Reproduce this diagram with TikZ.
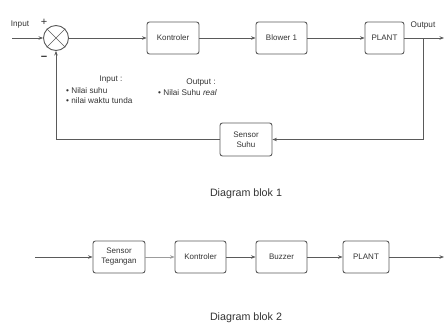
\documentclass[tikz,border=0pt]{standalone}
\usepackage{fontspec}
\setmainfont{Liberation Sans}
\usetikzlibrary{arrows.meta}
\definecolor{ln}{HTML}{5A5A5A}
\definecolor{tx}{HTML}{333333}
\begin{document}
\begin{tikzpicture}[x=1pt,y=-1pt,
  blk/.style={draw=ln,line width=0.9pt,rounded corners=2.5pt,minimum height=32pt,align=center,font=\fontsize{8}{10}\selectfont,text=tx,inner sep=1pt},
  conn/.style={draw=ln,line width=0.7pt,-{Stealth[length=4.5pt,width=3.5pt]}},
  plain/.style={draw=ln,line width=0.7pt},
  lbl/.style={font=\fontsize{8.2}{10}\selectfont,text=tx,inner sep=0pt},
  captxt/.style={font=\fontsize{10.7}{12}\selectfont,text=tx,inner sep=0pt}]
\useasboundingbox (0,0) rectangle (444,327);
% ---------- Diagram 1 ----------
\coordinate (in1) at (12,38);
\node[draw=ln,line width=0.9pt,circle,minimum size=25pt,inner sep=0pt] (sum) at (56,38) {};
\draw[plain] (sum.45) -- (sum.225) (sum.135) -- (sum.315);
\node[blk,minimum width=52pt] (kon1) at (173,38) {Kontroler};
\node[blk,minimum width=51pt] (blow) at (281.5,38) {Blower 1};
\node[blk,minimum width=39pt] (plant1) at (384.5,38) {PLANT};
\coordinate (br) at (423,38);
\coordinate (out1) at (444,38);
\node[blk,minimum width=52pt,minimum height=33pt] (sens) at (246,139.5) {Sensor\\Suhu};
\coordinate (fbr) at (423,139.5);
\coordinate (fbl) at (56,139.5);

\draw[conn] (in1) -- (sum);
\draw[conn] (sum) -- (kon1);
\draw[conn] (kon1) -- (blow);
\draw[conn] (blow) -- (plant1);
\draw[conn] (plant1) -- (out1);
\draw[conn] (br) -- (fbr) -- (sens);
\draw[plain] (sens) -- (fbl);
\draw[conn] (fbl) -- (sum);

\node[lbl] (linput) at (20,25) {Input};
\node[lbl] (loutput) at (423,25.5) {Output};
\node[font=\fontsize{11}{12}\selectfont,text=tx,inner sep=0pt] (plus) at (44,22) {+};
\node[font=\fontsize{11}{12}\selectfont\bfseries,text=tx,inner sep=0pt] (minus) at (44,58) {\textminus};

\node[lbl] (inhead) at (111,79.5) {Input :};
\node[lbl,anchor=west] (in1b) at (66,90.5) {\textbullet\ Nilai suhu};
\node[lbl,anchor=west] (in2b) at (66,100.5) {\textbullet\ nilai waktu tunda};
\node[lbl] (outhead) at (201,82) {Output :};
\node[lbl,anchor=west] (out1b) at (158,93) {\textbullet\ Nilai Suhu \textit{real}};

\node[captxt] (cap1) at (246,194) {Diagram blok 1};

% ---------- Diagram 2 ----------
\coordinate (in2) at (35,257);
\node[blk,minimum width=52pt] (st) at (119,257) {Sensor\\Tegangan};
\node[blk,minimum width=51pt] (kon2) at (200.5,257) {Kontroler};
\node[blk,minimum width=51pt] (buz) at (281.5,257) {Buzzer};
\node[blk,minimum width=46pt] (plant2) at (366,257) {PLANT};
\coordinate (out2) at (444,257);

\draw[conn] (in2) -- (st);
\draw[conn,draw=ln!60] (st) -- (kon2);
\draw[conn] (kon2) -- (buz);
\draw[conn] (buz) -- (plant2);
\draw[conn] (plant2) -- (out2);

\node[captxt] (cap2) at (246,318) {Diagram blok 2};
\end{tikzpicture}
\end{document}
